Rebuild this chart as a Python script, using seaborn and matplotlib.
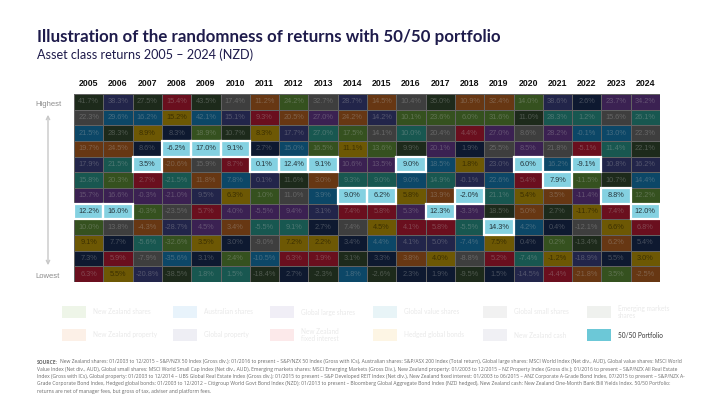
import numpy as np
import matplotlib
matplotlib.use('Agg')
import matplotlib.pyplot as plt
import seaborn as sns
from matplotlib.colors import ListedColormap, to_rgb
from matplotlib.patches import Rectangle, FancyArrowPatch

# Asset classes in legend order, one letter each
asset_keys = 'HCGFBADEKIJP'
asset_names = ['New Zealand shares', 'Australian shares', 'Global large shares',
               'Global value shares', 'Global small shares', 'Emerging markets\nshares',
               'New Zealand property', 'Global property', 'New Zealand\nfixed interest',
               'Hedged global bonds', 'New Zealand cash', '50/50 Portfolio']
table_colors = ['#35511f', '#0c4767', '#3b2152', '#185750', '#3e3e3e', '#1d2a1b',
                '#673713', '#22254a', '#6a0f1e', '#6d5804', '#0e1930', '#84d1e1']
legend_colors = ['#eef5e8', '#e8f3fb', '#f0eef6', '#e8f4f7', '#f1f1f1', '#eff1ee',
                 '#fcf0e7', '#eeeef4', '#fce9ea', '#fdf5e4', '#f0f0f4', '#6cc8d7']

years = list(range(2005, 2025))

# returns per year, highest to lowest
ranked_returns = [
    [41.7, 22.3, 21.5, 19.7, 17.9, 15.8, 15.7, 12.2, 10.0, 9.1, 7.3, 6.3],
    [38.3, 29.6, 28.3, 24.5, 21.5, 20.3, 16.6, 16.0, 13.8, 7.7, 5.9, 5.5],
    [27.5, 16.2, 8.9, 8.6, 3.5, 2.7, -0.3, -0.3, -4.3, -5.6, -7.9, -20.8],
    [15.4, 15.2, 8.3, -6.2, -20.6, -21.5, -21.0, -23.5, -28.7, -32.6, -35.6, -38.5],
    [43.5, 42.1, 18.9, 17.0, 15.9, 11.8, 9.5, 5.7, 4.5, 3.5, 3.1, 1.8],
    [17.4, 15.1, 10.7, 9.1, 8.7, 7.8, 6.3, 4.0, 3.4, 3.0, 2.4, 1.5],
    [11.2, 9.3, 8.3, 2.7, 0.1, 0.1, 1.0, -5.5, -5.5, -9.0, -10.5, -18.4],
    [24.2, 20.5, 17.7, 15.0, 12.4, 11.6, 11.0, 9.4, 9.1, 7.2, 6.3, 2.7],
    [32.7, 27.0, 27.0, 16.5, 9.1, 3.0, 3.9, 3.1, 2.7, 2.2, 1.9, -2.3],
    [28.7, 24.2, 17.5, 11.1, 10.6, 9.3, 9.0, 7.4, 7.4, 3.4, 3.1, 1.8],
    [14.5, 14.2, 14.1, 13.6, 13.5, 9.0, 6.2, 5.8, 4.5, 4.4, 3.3, -2.6],
    [10.4, 10.1, 10.0, 9.9, 9.0, 9.0, 5.8, 5.3, 4.1, 4.1, 3.8, 2.3],
    [35.0, 23.6, 20.4, 20.1, 18.5, 14.9, 13.9, 12.3, 5.8, 5.0, 4.0, 1.9],
    [10.9, 6.0, 4.4, 1.9, 1.8, -0.1, -2.0, -3.3, -5.5, -7.4, -8.8, -9.5],
    [32.4, 31.6, 27.0, 25.5, 23.0, 22.6, 21.1, 18.5, 14.3, 7.5, 5.2, 1.5],
    [14.0, 11.0, 8.6, 8.5, 6.0, 5.4, 5.4, 5.0, 4.2, 0.4, -7.4, -14.5],
    [38.6, 28.3, 28.2, 21.8, 16.2, 7.9, 3.5, 2.7, 0.4, 0.2, -1.2, -4.4],
    [2.6, 1.2, -0.1, -5.1, -9.1, -11.5, -11.4, -11.7, -12.1, -13.4, -18.9, -21.8],
    [23.7, 15.6, 13.0, 11.4, 10.8, 10.7, 8.8, 7.4, 6.6, 6.2, 5.5, 3.5],
    [34.2, 26.1, 22.3, 22.1, 16.2, 14.4, 12.2, 12.0, 6.8, 5.4, 3.0, -2.5],
]

# which asset sits in each rank (letters from asset_keys)
ranked_assets = [
    'ABCDEFGPHIJK', 'ECADFHGPBJKI', 'ACIJPKGHDFBE', 'KIJPDFGBEHCA',
    'ACHPBDEKGIJF', 'BEAPKCIGDJHF', 'DKIJPEHGFBCA', 'HDECPABGFIKJ',
    'BGFHPDCEJIKA', 'EDHIGFPKBJAC', 'DEBHGFPKICJA', 'BHFAPCIGKEDJ',
    'AHBGCFDPKEIJ', 'DHKJIEPGFCBA', 'DHGBECFAPIKJ', 'HABGPKIDCJFE',
    'EFGBCPDAJHIK', 'JFCKPHGIBAED', 'GBCFEAPKIDJH', 'GFBAECHPKJID',
]

title = 'Illustration of the randomness of returns with 50/50 portfolio'
subtitle = 'Asset class returns 2005 \u2013 2024 (NZD)'
footnote = [
    'New Zealand shares: 01/2003 to 12/2015 \u2013 S&P/NZX 50 Index (Gross div.); 01/2016 to present \u2013 S&P/NZX 50 Index (Gross with ICs), Australian shares: S&P/ASX 200 Index (Total return), Global large shares: MSCI World Index (Net div., AUD), Global value shares: MSCI World',
    'Value Index (Net div., AUD), Global small shares: MSCI World Small Cap Index (Net div., AUD), Emerging markets shares: MSCI Emerging Markets (Gross Div.), New Zealand property: 01/2003 to 12/2015 \u2013 NZ Property Index (Gross div.); 01/2016 to present \u2013 S&P/NZX All Real Estate',
    'Index (Gross with ICs), Global property: 01/2003 to 12/2014 \u2013 UBS Global Real Estate Index (Gross div.); 01/2015 to present \u2013 S&P Developed REIT Index (Net div.), New Zealand fixed interest: 01/2003 to 06/2015 \u2013 ANZ Corporate A-Grade Bond Index, 07/2015 to present \u2013 S&P/NZX A-',
    'Grade Corporate Bond Index, Hedged global bonds: 01/2003 to 12/2012 \u2013 Citigroup World Govt Bond Index (NZD); 01/2013 to present \u2013 Bloomberg Global Aggregate Bond Index (NZD hedged), New Zealand cash: New Zealand One-Month Bank Bill Yields Index. 50/50 Portfolio:',
    'returns are net of manager fees, but gross of tax, adviser and platform fees.',
]

W, H = 720, 405

sns.set_theme(style='white')
plt.rcParams['font.family'] = ['Liberation Sans', 'DejaVu Sans']


def mix(c1, c2, t):
    a, b = np.array(to_rgb(c1)), np.array(to_rgb(c2))
    return tuple(a * (1 - t) + b * t)


def fx(x):
    return x / W


def fy(y):
    return 1 - y / H


code_idx = {k: i for i, k in enumerate(asset_keys)}
grid = np.array([[code_idx[c] for c in col] for col in ranked_assets]).T
labels = np.array([[f'{v:.1f}%' for v in col] for col in ranked_returns]).T

fig = plt.figure(figsize=(7.2, 4.05), dpi=100)
fig.patch.set_facecolor('white')
ax = fig.add_axes([fx(74), fy(282), 586 / W, 188 / H])

sns.heatmap(grid, ax=ax, cmap=ListedColormap(table_colors), vmin=-0.5, vmax=len(asset_keys) - 0.5,
            cbar=False, annot=labels, fmt='', annot_kws=dict(fontsize=5.3),
            linewidths=0.7, linecolor='#626262', xticklabels=years, yticklabels=False)

for t in ax.texts:
    x, y = t.get_position()
    k = asset_keys[grid[int(y), int(x)]]
    base = table_colors[code_idx[k]]
    if k == 'P':
        t.set_color('#26363c')
    elif k == 'I':
        t.set_color(mix(base, '#000000', 0.45))
    else:
        t.set_color(mix(base, '#b4b4b4', 0.34))

# white frame round the 50/50 portfolio cells
for i in range(grid.shape[0]):
    for j in range(grid.shape[1]):
        if asset_keys[grid[i, j]] == 'P':
            ax.add_patch(Rectangle((j, i), 1, 1, fill=False, ec='white', lw=1.6, zorder=4, clip_on=False))

ax.xaxis.tick_top()
ax.tick_params(axis='x', length=0, pad=4, labelsize=6.3, labelcolor='#111111')
for lbl in ax.get_xticklabels():
    lbl.set_fontweight('bold')
    lbl.set_rotation(0)

r = fig.canvas.get_renderer()


def fit_width(t, px):
    w = t.get_window_extent(renderer=r).width
    t.set_fontsize(t.get_fontsize() * px / w)


t = fig.text(fx(37), fy(37), title, fontsize=12, fontweight='bold', color='#1e1b4b',
             va='center', family='Lato')
fit_width(t, 460)
t = fig.text(fx(37), fy(55), subtitle, fontsize=8.5, color='#1e1b4b', va='center', family='Lato')
fit_width(t, 215)

fig.text(fx(48), fy(104), 'Highest', ha='center', va='center', fontsize=5.5, color='#8c8c8c')
fig.text(fx(48), fy(277), 'Lowest', ha='center', va='center', fontsize=5.5, color='#8c8c8c')
fig.add_artist(FancyArrowPatch((fx(48), fy(112)), (fx(48), fy(268)), transform=fig.transFigure,
                               arrowstyle='<->', mutation_scale=6, color='#c8c8c8', lw=1))

# legend
legend_x = [62, 173, 270, 373, 483, 587]
legend_y = [312, 335]
for idx, name in enumerate(asset_names):
    row, col = divmod(idx, 6)
    x0, yc = legend_x[col], legend_y[row]
    tc = '#333333' if asset_keys[idx] == 'P' else '#e9e9e9'
    fig.add_artist(Rectangle((fx(x0), fy(yc + 6)), 24 / W, 12 / H, transform=fig.transFigure,
                             fc=legend_colors[idx], ec='none'))
    fig.text(fx(x0 + 31), fy(yc), name, va='center', fontsize=4.7, color=tc, family='Lato',
             linespacing=1.1)

# source footnote
fs = 4.0
src = fig.text(fx(37), fy(362), 'SOURCE:', fontsize=fs, fontweight='bold', color='#6b6b6b',
               va='center', family='Open Sans')
rest = fig.text(fx(60), fy(362), footnote[0], fontsize=fs, color='#6b6b6b', va='center',
                family='Open Sans')
wb = src.get_window_extent(renderer=r).width
wr = rest.get_window_extent(renderer=r).width
fs = fs * 646 / (wb + wr + 2)
src.set_fontsize(fs)
rest.set_fontsize(fs)
wb = src.get_window_extent(renderer=r).width
rest.set_x(fx(37 + wb + 2))
for k, line in enumerate(footnote[1:], start=1):
    fig.text(fx(37), fy(362 + 7.3 * k), line, fontsize=fs, color='#6b6b6b', va='center',
             family='Open Sans')

fig.savefig('out.png', dpi=100, facecolor='white')
